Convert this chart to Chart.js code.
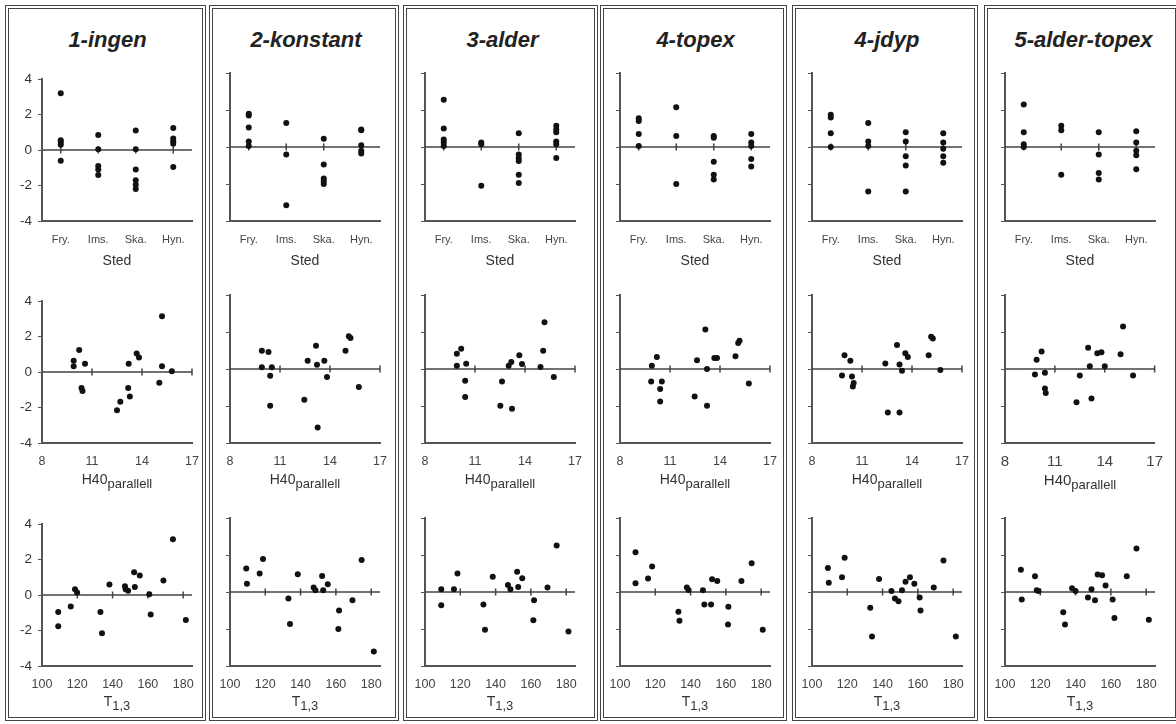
<!DOCTYPE html>
<html>
<head>
<meta charset="utf-8">
<script src="https://cdn.jsdelivr.net/npm/chart.js@4.4.1/dist/chart.umd.min.js"></script>
<style>
body{margin:0;background:#fff;font-family:"Liberation Sans",Arial,sans-serif;}
#page{position:relative;width:1176px;height:724px;overflow:hidden;}
.panel{position:absolute;top:5px;height:716px;border:4px double #444;box-sizing:border-box;}
.ptitle{position:absolute;top:27px;font-weight:bold;font-style:italic;font-size:22px;color:#222;transform:translateX(-50%);white-space:nowrap;}
.axt{position:absolute;font-size:14px;color:#333;transform:translateX(-50%);white-space:nowrap;}
.axt sub{font-size:13px;}
canvas{position:absolute;}
</style>
</head>
<body>
<div id="page"></div>
<script>
const models = ['1-ingen','2-konstant','3-alder','4-topex','4-jdyp','5-alder-topex'];
const sites = ['Fry.','Ims.','Ska.','Hyn.'];
const residTicks = [-4,-2,0,2,4];
const h40Ticks = [8,11,14,17];
const t13Ticks = [100,120,140,160,180];

// residuals by site: Fry., Ims., Ska., Hyn.
const ingenSted = [[3.2,0.55,0.45,0.3,-0.6],[0.85,0.05,-0.9,-1.1,-1.4],[1.1,0.05,-1.1,-1.7,-1.95,-2.2],[1.25,0.65,0.5,0.35,-0.95]];
const konstantSted = [[1.8,1.7,1.05,0.3,0.05],[1.3,-0.4,-3.15],[0.45,-0.95,-1.7,-1.85,-2.0],[0.95,0.9,0.1,-0.2,-0.35]];
const alderSted = [[2.55,1.0,0.4,0.25,0.05],[0.25,0.15,-2.1],[0.75,-0.4,-0.6,-0.75,-1.5,-1.95],[1.15,0.95,0.8,0.3,0.15,-0.6]];
const topexSted = [[1.55,1.4,0.7,0.05],[2.15,0.6,-2.0],[0.6,0.5,-0.8,-1.5,-1.75],[0.7,0.25,0.05,-0.65,-1.05]];
const jdypSted = [[1.75,1.6,0.75,0.0],[1.3,0.3,0.05,-2.4],[0.8,0.3,-0.5,-1.0,-2.4],[0.75,0.25,-0.1,-0.5,-0.85]];
const alderTopexSted = [[2.3,0.8,0.15,0.0],[1.15,0.9,-1.5],[0.8,-0.4,-1.4,-1.75],[0.85,0.25,-0.2,-0.45,-1.2]];

// residuals vs H40 parallell [x, y]
const ingenH40 = [[10.23,1.25],[9.9,0.64],[9.9,0.32],[10.58,0.47],[10.37,-0.9],[10.43,-1.07],[12.5,-2.15],[12.7,-1.68],[13.17,-0.9],[13.27,-1.38],[13.2,0.47],[13.68,1.04],[13.82,0.82],[15.04,-0.6],[15.2,3.15],[15.2,0.32],[15.79,0.05]];
const konstantH40 = [[9.91,0.99],[10.31,0.92],[9.91,0.09],[10.51,0.09],[10.41,-0.36],[10.41,-1.99],[12.46,-1.66],[12.66,0.45],[13.16,1.26],[13.22,0.23],[13.26,-3.16],[13.66,0.45],[13.82,-0.43],[14.93,0.99],[15.13,1.77],[15.23,1.68],[15.73,-0.97]];
const alderH40 = [[9.91,0.18],[9.91,0.83],[10.17,1.1],[10.47,0.29],[10.41,-0.63],[10.41,-1.52],[12.52,-1.99],[12.62,-0.67],[13.02,0.18],[13.18,0.38],[13.22,-2.15],[13.66,0.74],[13.82,0.27],[14.93,0.11],[15.09,0.99],[15.17,2.53],[15.73,-0.43]];
const topexH40 = [[9.91,0.18],[10.21,0.65],[9.87,-0.67],[10.51,-0.67],[10.41,-1.08],[10.41,-1.75],[12.48,-1.48],[12.62,0.47],[13.12,2.13],[13.22,0.0],[13.22,-1.99],[13.66,0.6],[13.82,0.6],[14.93,0.69],[15.09,1.41],[15.17,1.53],[15.73,-0.79]];
const jdypH40 = [[9.95,0.75],[10.3,0.45],[9.8,-0.35],[10.4,-0.4],[10.45,-0.95],[10.5,-0.75],[12.4,0.3],[13.1,1.3],[13.25,0.25],[12.55,-2.35],[13.25,-2.35],[13.6,0.85],[13.75,0.65],[13.4,-0.1],[15.0,0.75],[15.15,1.75],[15.25,1.65],[15.7,-0.05]];
const alderTopexH40 = [[10.2,0.95],[9.9,0.5],[9.8,-0.3],[10.4,-0.2],[10.4,-1.05],[10.45,-1.3],[12.3,-1.8],[12.5,-0.35],[13.0,1.15],[13.1,0.15],[13.2,-1.6],[13.55,0.85],[13.8,0.9],[14.0,0.15],[14.95,0.8],[15.1,2.3],[15.7,-0.35]];

// residuals vs T1,3 [x, y]
const ingenT13 = [[109.2,-0.95],[109.2,-1.76],[116.3,-0.64],[118.7,0.33],[119.9,0.15],[133.1,-0.95],[134.0,-2.16],[138.2,0.6],[147.0,0.49],[147.4,0.33],[148.8,0.24],[152.2,1.29],[152.6,0.45],[155.4,1.1],[160.8,0.05],[161.6,-1.09],[168.8,0.82],[174.2,3.15],[181.5,-1.4]];
const konstantT13 = [[109.2,1.27],[109.6,0.45],[116.8,1.0],[118.7,1.78],[133.1,-0.35],[134.0,-1.73],[138.4,0.96],[147.4,0.24],[148.4,0.09],[152.2,0.87],[152.8,0.09],[155.4,0.42],[161.8,-1.0],[161.4,-2.0],[169.4,-0.45],[174.6,1.73],[181.5,-3.22]];
const alderT13 = [[109.2,0.15],[109.2,-0.71],[116.4,0.15],[118.4,1.0],[133.1,-0.67],[134.0,-2.04],[138.4,0.82],[147.0,0.38],[148.4,0.15],[152.2,1.1],[152.8,0.27],[155.1,0.75],[161.8,-0.45],[161.4,-1.53],[169.4,0.24],[174.6,2.51],[181.3,-2.13]];
const topexT13 = [[108.8,2.15],[108.8,0.47],[115.9,0.73],[118.2,1.38],[133.1,-1.07],[133.7,-1.55],[137.9,0.24],[138.8,0.11],[147.0,0.09],[147.8,-0.67],[151.6,-0.67],[152.2,0.69],[155.1,0.6],[161.4,-0.8],[161.2,-1.76],[168.8,0.6],[174.6,1.56],[180.9,-2.04]];
const jdypT13 = [[109,1.3],[109.5,0.5],[117,0.8],[118.5,1.85],[133,-0.85],[134,-2.4],[138,0.7],[145,0.05],[147,-0.35],[149,-0.5],[151,0.1],[153,0.55],[155.5,0.8],[158,0.45],[161,-0.3],[161.5,-1.0],[169,0.25],[174.5,1.7],[181.5,-2.4]];
const alderTopexT13 = [[109,1.2],[109.5,-0.4],[117,0.85],[118,0.1],[119,0.05],[133,-1.1],[134,-1.75],[138,0.2],[140,0.05],[147,-0.3],[149,0.15],[151,-0.45],[152.5,0.95],[155,0.9],[157,0.35],[161,-0.4],[162,-1.4],[169,0.85],[174.5,2.35],[181.5,-1.5]];

const stedData = [ingenSted, konstantSted, alderSted, topexSted, jdypSted, alderTopexSted];
const h40Data = [ingenH40, konstantH40, alderH40, topexH40, jdypH40, alderTopexH40];
const t13Data = [ingenT13, konstantT13, alderT13, topexT13, jdypT13, alderTopexT13];

// layout
const panels = [[5,201],[209,190],[403,195],[600,187],[792,186],[984,195]];
const axisX = [42,230,425,620,812,1005];
const rowTop = [73,295,518];
const PLOT_W = 150, PLOT_H = 148;
const PADL = 40, PADR = 18, PADT = 8, PADB = 32;

const page = document.getElementById('page');

panels.forEach((p,i) => {
    const d = document.createElement('div');
    d.className = 'panel';
    d.style.left = p[0]+'px';
    d.style.width = p[1]+'px';
    page.appendChild(d);
    const t = document.createElement('div');
    t.className = 'ptitle';
    t.textContent = models[i];
    t.style.left = (p[0] + p[1]/2 + 2)+'px';
    page.appendChild(t);
});

const zeroLine = {
    id: 'zeroLine',
    beforeDatasetsDraw(chart){
        const {ctx, chartArea: a, scales: {x, y}} = chart;
        const y0 = y.getPixelForValue(0);
        ctx.save();
        ctx.strokeStyle = '#444';
        ctx.lineWidth = 1.5;
        ctx.beginPath();
        ctx.moveTo(a.left, y0);
        ctx.lineTo(a.right, y0);
        x.ticks.forEach(t => {
            if(t.value > x.min){
                const px = x.getPixelForValue(t.value);
                ctx.moveTo(px, y0-3.5);
                ctx.lineTo(px, y0+3.5);
            }
        });
        ctx.stroke();
        ctx.restore();
    }
};

function addTitle(col, top, html, size){
    const d = document.createElement('div');
    d.className = 'axt';
    d.innerHTML = html;
    d.style.left = (axisX[col] + PLOT_W/2)+'px';
    d.style.top = top+'px';
    if(size) d.style.fontSize = size+'px';
    page.appendChild(d);
}

function makeChart(col, row){
    const cv = document.createElement('canvas');
    const w = PADL + PLOT_W + PADR, h = PADT + PLOT_H + PADB;
    cv.width = w; cv.height = h;
    cv.style.width = w+'px'; cv.style.height = h+'px';
    cv.style.left = (axisX[col]-PADL)+'px';
    cv.style.top = (rowTop[row]-PADT)+'px';
    page.appendChild(cv);

    let pts, xmin, xmax, xticks, fsize = 12, pad = 11;
    if(row === 0){
        pts = stedData[col].flatMap((vals,i) => vals.map(v => ({x: i+1, y: v})));
        xmin = 0.5; xmax = 4.5; xticks = [1,2,3,4]; fsize = 11; pad = 12;
    } else if(row === 1){
        pts = h40Data[col].map(p => ({x: p[0], y: p[1]}));
        xmin = 8; xmax = 17; xticks = h40Ticks; fsize = col === 5 ? 15 : 12.5;
        pad = col === 5 ? 10 : 11;
    } else {
        pts = t13Data[col].map(p => ({x: p[0], y: p[1]}));
        xmin = 100; xmax = 185; xticks = t13Ticks; fsize = 12.5;
    }

    new Chart(cv, {
        type: 'scatter',
        data: {
            datasets: [{
                data: pts,
                pointRadius: 3,
                pointHoverRadius: 3,
                pointBackgroundColor: '#111',
                pointBorderWidth: 0
            }]
        },
        options: {
            responsive: false,
            animation: false,
            events: [],
            layout: { padding: { top: PADT, right: PADR, left: 0, bottom: 0 } },
            plugins: { legend: { display: false }, tooltip: { enabled: false } },
            scales: {
                x: {
                    type: 'linear', min: xmin, max: xmax,
                    afterBuildTicks: s => { s.ticks = xticks.map(v => ({value: v})); },
                    afterFit: s => { s.height = PADB; },
                    grid: { display: true, drawOnChartArea: false, drawTicks: false, color: 'rgba(0,0,0,0)' },
                    border: { display: true, color: '#555', width: 2 },
                    ticks: {
                        padding: pad, color: '#444', maxRotation: 0, autoSkip: false,
                        font: { family: '"Liberation Sans", Arial, sans-serif', size: fsize },
                        callback: v => row === 0 ? sites[v-1] : v
                    }
                },
                y: {
                    type: 'linear', min: -4, max: 4,
                    afterBuildTicks: s => { s.ticks = residTicks.map(v => ({value: v})); },
                    afterFit: s => { s.width = PADL; },
                    grid: { drawOnChartArea: false, tickLength: 4, color: '#555', lineWidth: 1 },
                    border: { display: true, color: '#555', width: 2 },
                    ticks: {
                        display: col === 0, padding: 6, color: '#333',
                        font: { family: '"Liberation Sans", Arial, sans-serif', size: 13.5 }
                    }
                }
            }
        },
        plugins: [zeroLine]
    });
}

for(let c = 0; c < 6; c++){
    for(let r = 0; r < 3; r++) makeChart(c, r);
    addTitle(c, 252, 'Sted');
    addTitle(c, 471, 'H40<sub>parallell</sub>', c === 5 ? 15 : 14);
    addTitle(c, 693, 'T<sub>1,3</sub>');
}
</script>
</body>
</html>
